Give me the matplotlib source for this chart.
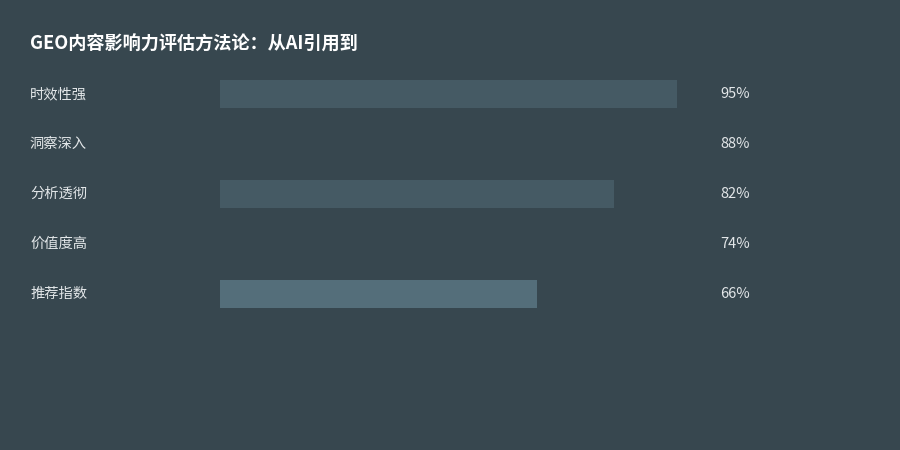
import numpy as np
from matplotlib import pyplot as plt
from matplotlib import transforms

plt.rcParams['font.family'] = ['Noto Sans CJK SC', 'DejaVu Sans']

title = "GEO内容影响力评估方法论：从AI引用到"
categories = ["时效性强", "洞察深入", "分析透彻", "价值度高", "推荐指数"]
values = [95, 88, 82, 74, 66]
barColors = ["#455A64", "#37474F", "#455A64", "#37474F", "#546E7A"]

bg = "#37474F"

fig = plt.figure(figsize=(9, 4.5), dpi=100, facecolor=bg)
# axes runs from x=220px to x=701px (0..100%)
ax = fig.add_axes([220 / 900, 0, 481 / 900, 1])
ax.set_facecolor(bg)

rows = np.arange(len(categories))
ax.barh(rows, values, height=0.56, color=barColors, edgecolor="none")
ax.set_xlim(0, 100)
# first row centre at 94px, row pitch 50px
ax.set_ylim((450 - 94) / 50, -94 / 50)
ax.axis("off")

trans = transforms.blended_transform_factory(fig.transFigure, ax.transData)
for i, (cat, val) in enumerate(zip(categories, values)):
    ax.text(30 / 900, i, cat, transform=trans, ha="left", va="center",
            fontsize=10.3, color="#E3E7E9")
    ax.text(720 / 900, i, f"{val}%", transform=trans, ha="left", va="center",
            fontsize=10.5, color="#E3E7E9")

fig.text(30 / 900, 1 - 44 / 450, title, ha="left", va="center",
         fontsize=13.1, fontweight="bold", color="white")

fig.savefig("out.png", dpi=100, facecolor=bg)
